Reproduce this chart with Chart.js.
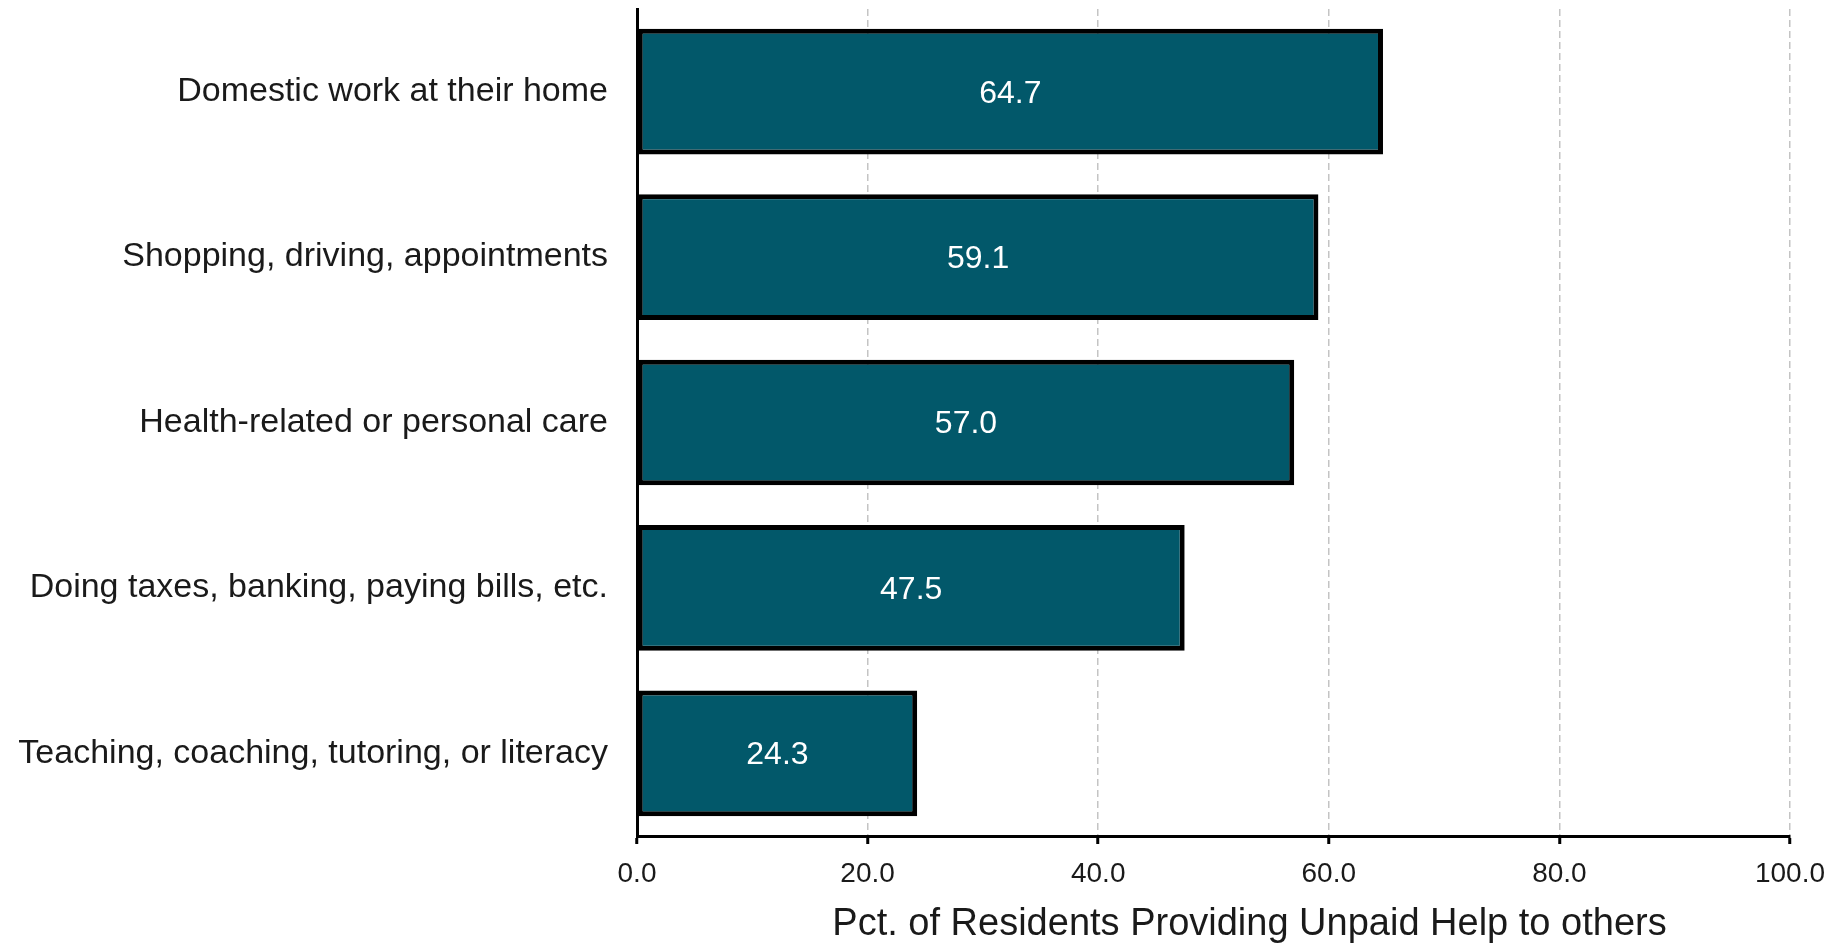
<!DOCTYPE html>
<html>
<head>
<meta charset="utf-8">
<title>Unpaid help</title>
<script src="https://cdn.jsdelivr.net/npm/chart.js@4.4.1/dist/chart.umd.min.js"></script>
<style>
    html, body { margin: 0; padding: 0; background: #fff; }
    #wrap { width: 1839px; height: 947px; position: relative; }
</style>
</head>
<body>
<div id="wrap"><canvas id="helpChart"></canvas></div>
<script>
// Chart data
var categories = [
    'Domestic work at their home',
    'Shopping, driving, appointments',
    'Health-related or personal care',
    'Doing taxes, banking, paying bills, etc.',
    'Teaching, coaching, tutoring, or literacy'
];
var helpValues = [64.7, 59.1, 57.0, 47.5, 24.3];
var xTicks = [0, 20, 40, 60, 80, 100];
var xTitle = 'Pct. of Residents Providing Unpaid Help to others';

var fontFamily = "'Liberation Sans', Arial, Helvetica, sans-serif";

// White value labels in the middle of each bar
var barLabels = {
    id: 'barLabels',
    afterDatasetsDraw: function(chart) {
        var ctx = chart.ctx;
        var meta = chart.getDatasetMeta(0);
        ctx.save();
        ctx.fillStyle = '#ffffff';
        ctx.font = '32px ' + fontFamily;
        ctx.textAlign = 'center';
        ctx.textBaseline = 'middle';
        meta.data.forEach(function(bar, i) {
            var mid = (bar.x + bar.base) / 2;
            ctx.fillText(helpValues[i].toFixed(1), mid, bar.y + 2);
        });
        ctx.restore();
    }
};

// x axis title, set a bit right of the axis centre like the original
var axisTitle = {
    id: 'axisTitle',
    afterDraw: function(chart) {
        var ctx = chart.ctx;
        var xScale = chart.scales.x;
        ctx.save();
        ctx.fillStyle = '#1a1a1a';
        ctx.font = '38px ' + fontFamily;
        ctx.textAlign = 'center';
        ctx.textBaseline = 'middle';
        ctx.fillText(xTitle, (xScale.left + xScale.right) / 2 + 36, xScale.bottom - 22);
        ctx.restore();
    }
};

new Chart(document.getElementById('helpChart'), {
    type: 'bar',
    data: {
        labels: categories,
        datasets: [{
            data: helpValues,
            backgroundColor: '#02586a',
            borderColor: '#000000',
            borderWidth: 5,
            borderSkipped: false,
            categoryPercentage: 1.0,
            barPercentage: 0.76
        }]
    },
    options: {
        indexAxis: 'y',
        responsive: true,
        maintainAspectRatio: false,
        animation: false,
        layout: { padding: { top: 9, right: 49, bottom: 0, left: 0 } },
        plugins: {
            legend: { display: false },
            tooltip: { enabled: false }
        },
        scales: {
            x: {
                min: 0,
                max: 100,
                afterBuildTicks: function(scale) {
                    scale.ticks = xTicks.map(function(v) { return { value: v }; });
                },
                afterFit: function(scale) { scale.height = 111; },
                ticks: {
                    color: '#1a1a1a',
                    font: { family: fontFamily, size: 28 },
                    padding: 13,
                    maxRotation: 0,
                    callback: function(v) { return Number(v).toFixed(1); }
                },
                grid: {
                    color: function(c) { return c.tick && c.tick.value === 0 ? 'rgba(0,0,0,0)' : '#c4c4c4'; },
                    lineWidth: 1.5,
                    tickColor: '#000000',
                    tickWidth: 3,
                    tickLength: 8
                },
                border: { display: true, color: '#000000', width: 3, dash: [7, 4] }
            },
            y: {
                afterFit: function(scale) {
                    scale.width = 637;
                    // labels sit on category centres, no extra room above/below
                    scale.paddingTop = 0;
                    scale.paddingBottom = 0;
                },
                ticks: {
                    color: '#1a1a1a',
                    font: { family: fontFamily, size: 34 },
                    padding: 29
                },
                grid: { display: false, drawTicks: false },
                border: { display: true, color: '#000000', width: 3 }
            }
        }
    },
    plugins: [barLabels, axisTitle]
});
</script>
</body>
</html>
